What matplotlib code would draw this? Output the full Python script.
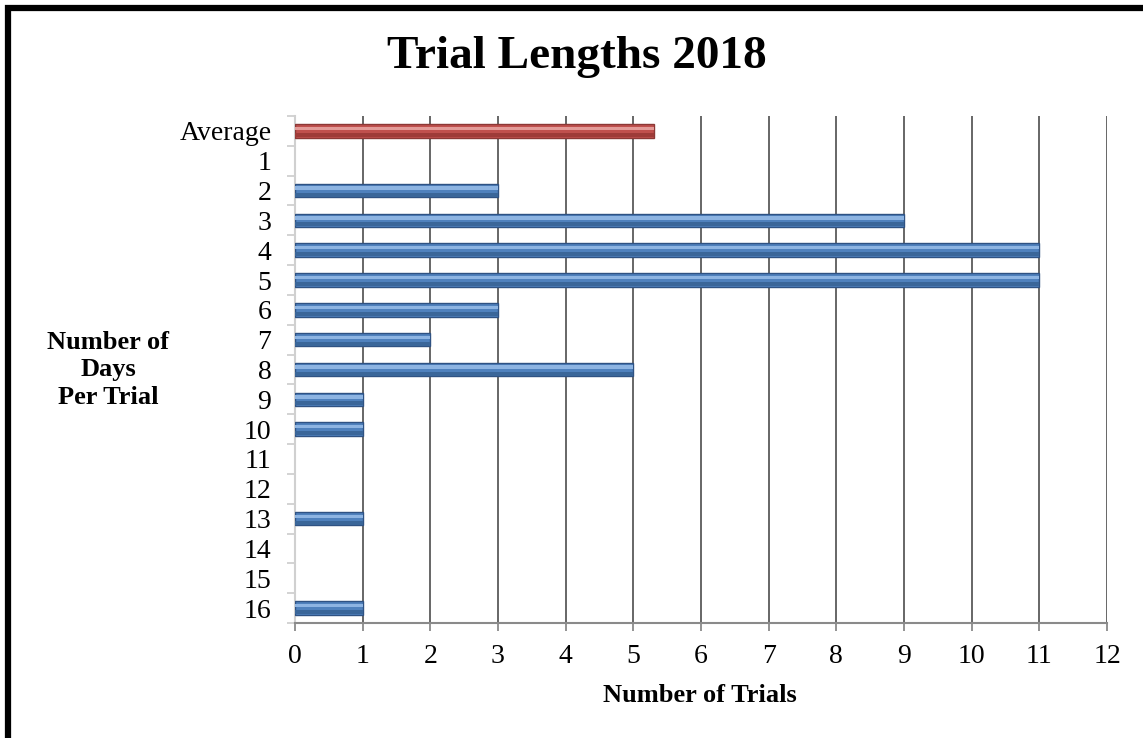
import matplotlib
matplotlib.use('Agg')
import matplotlib.pyplot as plt
from matplotlib.patches import Rectangle
import numpy as np

# Data
categories = ['Average', '1', '2', '3', '4', '5', '6', '7', '8',
              '9', '10', '11', '12', '13', '14', '15', '16']
trials = [5.3, 0, 3, 9, 11, 11, 3, 2, 5, 1, 1, 0, 0, 1, 0, 0, 1]
x_ticks = list(range(0, 13))

plt.rcParams['font.family'] = ['Liberation Serif', 'DejaVu Serif']

fig = plt.figure(figsize=(11.43, 7.38), dpi=100)
ax = fig.add_axes([295 / 1143, 1 - 623 / 738, (1107 - 295) / 1143, (623 - 116) / 738])

y = np.arange(len(categories))
n = len(categories)
face = ['#C0504D'] + ['#4F81BD'] * (n - 1)
edge = ['#8C3836' if v > 0 else 'none' for v in trials[:1]] + \
       ['#2F5283' if v > 0 else 'none' for v in trials[1:]]
light = ['#E39B98'] + ['#8DB4E2'] * (n - 1)
dark = ['#9E3B38'] + ['#3A6699'] * (n - 1)

h = 0.45
# base bar
ax.barh(y, trials, height=h, color=face, edgecolor=edge, linewidth=1.0, zorder=3)
# darker lower band and lighter upper band for the cylinder look
ax.barh(y + h * 0.3, trials, height=h * 0.3, color=dark, linewidth=0, zorder=4)
ax.barh(y - h * 0.18, trials, height=h * 0.25, color=light, linewidth=0, zorder=4)

ax.set_xlim(0, 12)
ax.set_ylim(n - 0.5, -0.5)
ax.set_xticks(x_ticks)
ax.set_xticklabels([str(t) for t in x_ticks], fontsize=20)
ax.set_yticks(y)
ax.set_yticklabels(categories, fontsize=20)
ax.set_yticks(np.arange(-0.5, n, 1), minor=True)

ax.grid(axis='x', color='#5a5a5a', linewidth=1.3, zorder=1)
ax.tick_params(axis='y', which='major', length=0, pad=17)
ax.tick_params(axis='y', which='minor', length=6, width=1.3, color='#d0d0d0', direction='out')
ax.tick_params(axis='x', length=6, width=1.3, color='#8a8a8a', pad=9)

for s in ['top', 'right']:
    ax.spines[s].set_visible(False)
ax.spines['bottom'].set_color('#8a8a8a')
ax.spines['bottom'].set_linewidth(1.5)
ax.spines['left'].set_color('#d0d0d0')
ax.spines['left'].set_linewidth(1.5)

fig.text(577 / 1143, 1 - 57 / 738, 'Trial Lengths 2018', fontsize=34,
         fontweight='bold', ha='center', va='center')
fig.text(108 / 1143, 1 - 370 / 738, 'Number of\nDays\nPer Trial', fontsize=19,
         fontweight='bold', ha='center', va='center', linespacing=1.27)
fig.text(700 / 1143, 1 - 695 / 738, 'Number of Trials', fontsize=19,
         fontweight='bold', ha='center', va='center')

# outer frame (right/bottom edges fall outside the image)
fig.patches.append(Rectangle((8 / 1143, -0.1), 1.2, 1 - 8 / 738 + 0.1,
                             transform=fig.transFigure, fill=False,
                             edgecolor='black', linewidth=4.5))

fig.savefig('out.png', dpi=100)
